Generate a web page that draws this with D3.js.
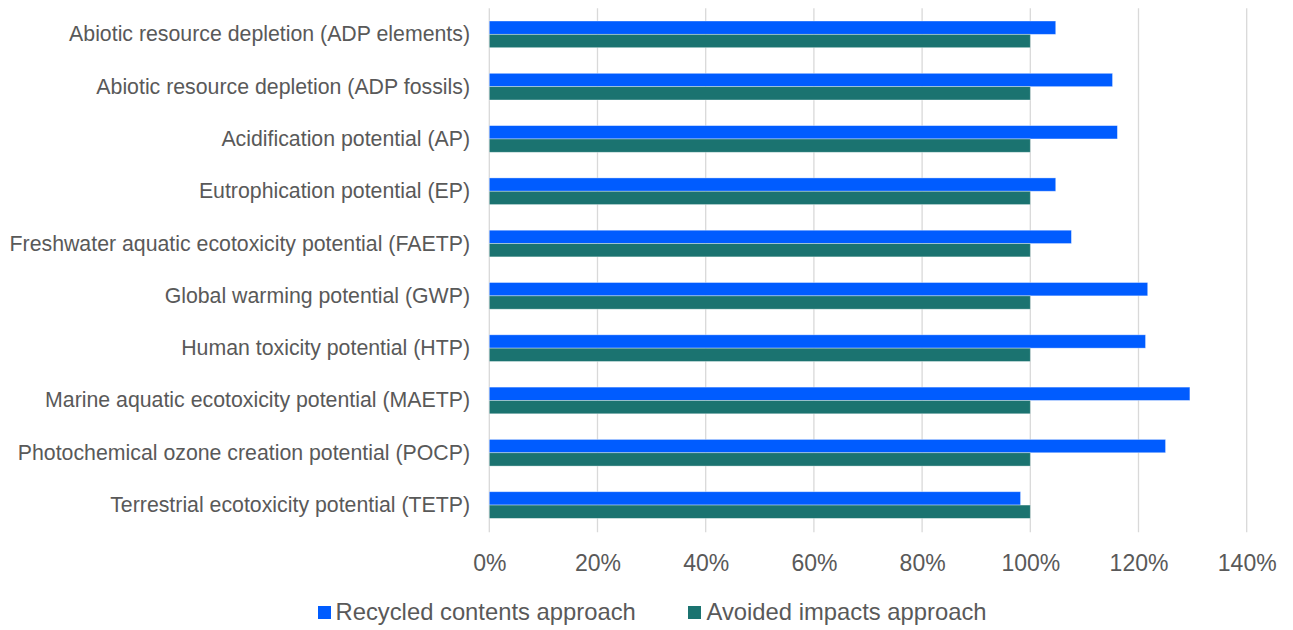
<!DOCTYPE html>
<html><head><meta charset="utf-8">
<script src="https://cdn.jsdelivr.net/npm/d3@7"></script>
<style>body{margin:0;background:#fff;}svg{display:block;font-family:"Liberation Sans",Arial,sans-serif;}</style>
</head><body><svg id="c" width="1293" height="630"></svg>
<script>
const categories = [
  "Abiotic resource depletion (ADP elements)",
  "Abiotic resource depletion (ADP fossils)",
  "Acidification potential (AP)",
  "Eutrophication potential (EP)",
  "Freshwater aquatic ecotoxicity potential (FAETP)",
  "Global warming potential (GWP)",
  "Human toxicity potential (HTP)",
  "Marine aquatic ecotoxicity potential (MAETP)",
  "Photochemical ozone creation potential (POCP)",
  "Terrestrial ecotoxicity potential (TETP)"
];
const recycled = [104.7, 115.2, 116.1, 104.7, 107.6, 121.7, 121.3, 129.5, 125.0, 98.2];
const avoided = [100, 100, 100, 100, 100, 100, 100, 100, 100, 100];
const seriesNames = ["Recycled contents approach", "Avoided impacts approach"];
const colors = ["#005CFF", "#1B7370"];
const ticks = [0, 20, 40, 60, 80, 100, 120, 140];

const svg = d3.select("#c");
const pL = 489.3, pR = 1246.7, pT = 8.2, pB = 531.2;
const x = d3.scaleLinear().domain([0, 140]).range([pL, pR]);
const y = d3.scaleBand().domain(categories).range([pT, pB]).paddingInner(0.49).paddingOuter(0.245);
const sub = d3.scaleBand().domain([0, 1]).range([0, y.bandwidth()]);

// grid
svg.append("g").selectAll("line").data(ticks).join("line")
  .attr("x1", d => x(d)).attr("x2", d => x(d))
  .attr("y1", pT).attr("y2", pB + 1)
  .attr("stroke", "#D9D9D9").attr("stroke-width", 1.3);

const series = [recycled, avoided];
series.forEach((vals, si) => {
  svg.append("g").selectAll("rect").data(vals).join("rect")
    .attr("x", x(0))
    .attr("y", (d, i) => y(categories[i]) + sub(si))
    .attr("width", d => x(d) - x(0))
    .attr("height", sub.bandwidth())
    .attr("fill", colors[si])
    .attr("stroke", "rgba(255,255,255,0.45)").attr("stroke-width", 0.8);
});

// y labels
svg.append("g").selectAll("text").data(categories).join("text")
  .attr("x", 470).attr("y", d => y(d) + y.bandwidth() / 2)
  .attr("text-anchor", "end").attr("dominant-baseline", "central")
  .attr("fill", "#595959").attr("font-size", 21.3).text(d => d);

// x axis labels
const xa = svg.append("g").attr("transform", `translate(0,${pB})`)
  .call(d3.axisBottom(x).tickValues(ticks).tickFormat(d => d + "%").tickSize(0).tickPadding(23));
xa.select(".domain").remove();
xa.selectAll("text").attr("fill", "#595959").attr("font-size", 23).attr("font-family", "'Liberation Sans',Arial,sans-serif");

// legend
const leg = svg.append("g");
const legX = [318, 688];
const legTextX = [335.5, 706.5];
seriesNames.forEach((n, i) => {
  leg.append("rect").attr("x", legX[i]).attr("y", 606).attr("width", 13).attr("height", 13).attr("fill", colors[i]);
  leg.append("text").attr("x", legTextX[i]).attr("y", 611.5).attr("dominant-baseline", "central")
    .attr("fill", "#595959").attr("font-size", 23.8).text(n);
});
</script></body></html>
